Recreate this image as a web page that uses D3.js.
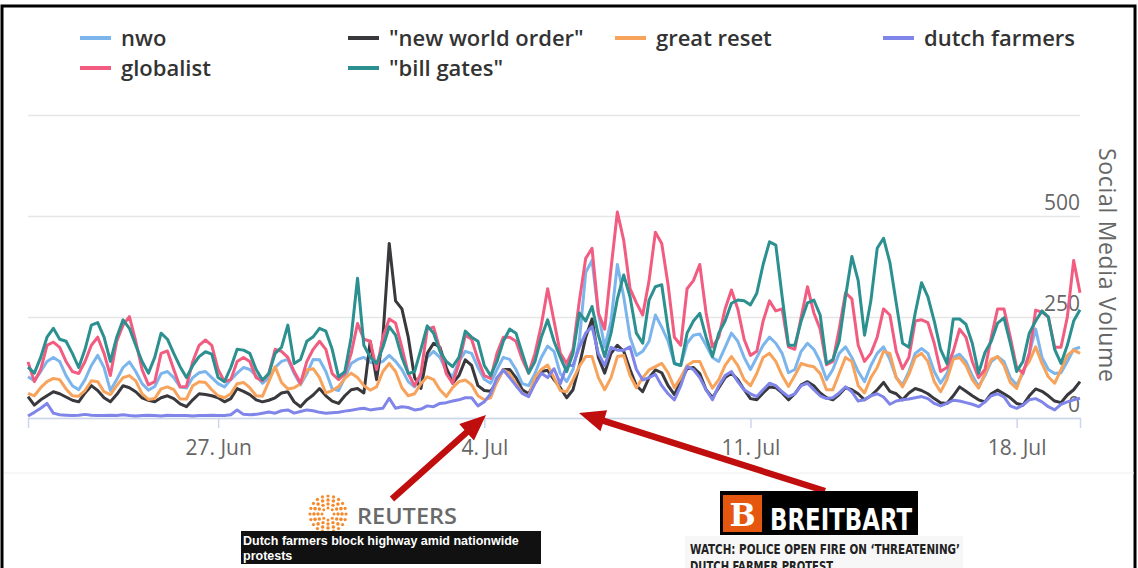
<!DOCTYPE html>
<html lang="en">
<head>
<meta charset="UTF-8">
<title>Social Media Volume</title>
<script src="https://d3js.org/d3.v7.min.js"></script>
<style>
  body { margin: 0; background: #fff; }
  svg { display: block; font-family: 'Open Sans', sans-serif; }
</style>
</head>
<body>
<svg id="chart" width="1138" height="568"></svg>
<script>
// series in legend / drawing order
const seriesNames = ["nwo", "\"new world order\"", "great reset", "dutch farmers", "globalist", "\"bill gates\""];
const seriesColors = ["#7cb5ec", "#38383d", "#f7a35c", "#8085e9", "#f15c80", "#2b908f"];

// 4-hourly samples starting 22 Jun 2022 00:00 UTC
const startTime = Date.UTC(2022, 5, 22, 0);
const stepHours = 4;

const nwo = [102,92,115,140,150,140,105,80,70,95, 130,155,125,68,95,125,139,115,85,69,
  78,110,115,100,77,74,100,112,115,100, 85,77,95,111,125,120,105,86,100,125,
  140,145,110,82,110,145,144,115,72,68, 100,135,145,150,138,135,140,155,140,120,
  90,77,100,150,165,150,118,102,140,165, 160,125,96,86,120,150,145,120,85,80,
  110,150,178,165,110,90,120,190,360,390, 260,175,240,380,300,200,155,165,190,255,
  225,190,135,130,185,205,208,180,150,140, 175,210,190,150,120,150,180,200,185,160,
  112,120,165,185,170,140,95,120,160,176, 150,115,90,130,160,176,145,100,82,115,
  160,172,160,115,86,110,150,158,140,105, 78,105,140,152,140,100,82,110,160,220,
  150,120,110,112,140,170,175];

const newWorldOrder = [53,32,45,55,65,60,52,44,40,62, 80,68,50,40,58,80,75,65,50,44,
  40,50,55,48,35,28,45,60,58,55, 50,40,48,73,66,58,45,40,44,50,
  62,65,40,28,45,57,73,55,42,36, 55,70,73,62,190,95,200,432,290,270,
  200,100,73,160,185,175,125,86,105,144, 130,80,68,66,90,120,120,100,70,60,
  90,115,118,95,75,50,70,130,200,245, 150,111,160,180,165,120,80,65,100,119,
  112,80,58,90,122,125,110,70,50,75, 100,111,95,70,48,45,62,77,75,62,
  45,60,82,90,80,62,50,45,58,75, 70,60,45,55,70,88,66,60,45,62,
  73,68,60,48,38,36,55,77,66,55, 45,40,60,69,60,50,36,32,55,72,
  66,55,42,38,57,70,90];

const greatReset = [61,55,75,90,98,95,72,55,54,68, 92,90,65,58,80,100,105,92,60,46,
  48,72,77,70,47,47,80,90,88,70, 55,50,60,85,88,75,55,54,90,127,
  88,72,75,85,119,122,100,62,68,78, 98,111,100,80,69,77,115,135,115,75,
  55,60,85,102,95,70,53,75,90,94, 82,55,45,50,90,119,110,85,61,54,
  100,120,131,100,68,65,95,128,152,152, 100,70,100,152,155,105,75,100,119,127,
  135,112,75,100,130,140,140,105,74,95, 130,152,130,95,80,110,150,160,140,105,
  78,105,135,130,127,110,70,70,110,150, 140,80,62,100,125,165,160,100,77,108,
  150,160,140,90,65,95,145,150,130,95, 74,110,145,152,130,88,73,118,140,176,
  135,102,86,120,155,168,160];

const dutchFarmers = [5,14,24,36,12,8,7,6,7,9, 7,6,6,7,6,8,6,5,6,7,
  6,5,7,6,6,6,5,6,6,7, 6,6,8,20,9,8,9,12,15,12,
  18,20,12,16,20,18,14,12,13,14, 17,19,22,24,20,22,24,49,24,28,
  26,20,22,30,28,36,38,42,45,50, 50,30,40,60,100,119,100,80,61,53,
  85,111,100,122,85,130,130,175,210,226, 160,130,175,168,168,176,120,94,100,108,
  80,60,45,80,127,120,100,70,45,80, 105,115,90,70,60,53,70,86,80,65,
  53,60,80,86,70,55,48,50,62,77, 65,42,45,55,60,52,34,42,45,47,
  50,53,48,36,30,36,44,42,38,34, 28,40,55,60,52,30,24,32,45,48,
  40,28,20,34,40,45,49];

const globalist = [139,90,120,180,188,175,140,115,110,140, 180,200,160,105,190,230,251,190,120,82,
  90,160,166,120,77,78,140,180,193,180, 120,90,95,140,150,140,100,92,110,170,
  165,150,115,86,140,170,190,170,110,95, 110,160,234,195,190,120,200,245,235,175,
  110,80,110,220,225,170,110,86,135,205, 195,145,105,98,160,200,200,190,145,111,
  160,230,320,240,160,135,170,290,395,420, 260,220,370,510,440,320,285,255,340,460,
  432,330,200,180,320,340,380,260,176,200, 270,317,270,195,155,165,240,290,265,270,
  176,170,250,325,260,220,132,140,220,310, 295,180,140,160,200,270,255,165,122,150,
  240,243,236,185,115,125,165,220,200,140, 100,120,200,270,270,200,125,111,160,267,
  262,250,175,175,250,390,310];

const billGates = [126,111,150,200,222,195,190,160,125,170, 230,236,200,140,200,243,222,180,140,111,
  150,210,195,160,127,100,130,152,164,158, 100,90,125,170,168,160,120,94,110,160,
  175,230,135,145,190,201,222,215,170,102, 115,200,346,180,150,135,175,226,205,150,
  110,115,170,228,210,165,140,127,150,215, 200,190,130,105,140,190,220,210,160,111,
  140,200,243,190,150,115,160,260,240,276, 205,152,210,295,354,300,210,185,292,325,
  330,220,135,130,210,240,259,200,152,210, 240,284,292,290,280,309,380,436,428,300,
  180,180,240,285,292,255,135,145,190,300, 400,340,205,290,420,445,385,285,185,175,
  260,335,300,240,170,135,245,245,232,185, 111,162,190,235,248,185,115,140,210,240,
  265,250,170,135,180,240,268];

const seriesValues = [nwo, newWorldOrder, greatReset, dutchFarmers, globalist, billGates];

const xTickDates = ["2022-06-27", "2022-07-04", "2022-07-11", "2022-07-18"];
const yTicks = [0, 250, 500, 750];
const yLabelled = [0, 250, 500];

const svg = d3.select("#chart");
const plot = { left: 28, right: 1080, top: 115, bottom: 418 };

// outer frame
svg.append("rect")
  .attr("x", 2).attr("y", 6).attr("width", 1133).attr("height", 600)
  .attr("fill", "none").attr("stroke", "#000").attr("stroke-width", 3);

const times = nwo.map((d, i) => new Date(startTime + i * stepHours * 3600e3));

const x = d3.scaleUtc()
  .domain([times[0], times[times.length - 1]])
  .range([plot.left, plot.right]);

const y = d3.scaleLinear()
  .domain([0, 750])
  .range([plot.bottom, plot.top]);

// gridlines + y labels (labels sit above the lines, right aligned)
const yAxis = svg.append("g")
  .attr("transform", `translate(${plot.left},0)`)
  .call(d3.axisRight(y)
    .tickValues(yTicks)
    .tickSize(plot.right - plot.left)
    .tickFormat(d => yLabelled.includes(d) ? d : ""));
yAxis.select(".domain").remove();
yAxis.selectAll(".tick line").attr("stroke", "#e6e6e6").attr("stroke-width", 1.5);
yAxis.selectAll(".tick text")
  .attr("x", plot.right - plot.left)
  .attr("dy", "-0.3em")
  .attr("text-anchor", "end")
  .attr("fill", "#666")
  .style("font-size", "21px")
  .style("font-family", "'Open Sans', sans-serif");

svg.append("text")
  .attr("transform", `translate(1099,265) rotate(90)`)
  .attr("text-anchor", "middle")
  .attr("fill", "#666")
  .style("font-size", "23px")
  .attr("textLength", 234)
  .text("Social Media Volume");

// x axis
const xAxis = svg.append("g")
  .attr("transform", `translate(0,${plot.bottom})`)
  .call(d3.axisBottom(x)
    .tickValues(xTickDates.map(d => new Date(d + "T00:00:00Z")))
    .tickSize(10)
    .tickPadding(12)
    .tickFormat(d3.utcFormat("%-d. %b")));
xAxis.select(".domain").attr("stroke", "#ccd6eb").attr("stroke-width", 1.5);
xAxis.selectAll(".tick line").attr("stroke", "#ccd6eb").attr("stroke-width", 1.5);
xAxis.selectAll(".tick text")
  .attr("fill", "#666")
  .style("font-size", "21px")
  .style("font-family", "'Open Sans', sans-serif");

// faint bottom separator of chart container
svg.append("line")
  .attr("x1", 4).attr("x2", 1134).attr("y1", 473).attr("y2", 473)
  .attr("stroke", "#eeeeee").attr("stroke-width", 1);

// lines
const line = d3.line()
  .x((d, i) => x(times[i]))
  .y(d => y(d));

seriesValues.forEach((vals, k) => {
  svg.append("path")
    .datum(vals)
    .attr("fill", "none")
    .attr("stroke", seriesColors[k])
    .attr("stroke-width", 3)
    .attr("stroke-linejoin", "round")
    .attr("d", line);
});

// legend
const legendCols = [80, 348, 615, 883];
const legendRows = [38, 68];
seriesNames.forEach((name, k) => {
  const g = svg.append("g")
    .attr("transform", `translate(${legendCols[k % 4]},${legendRows[Math.floor(k / 4)]})`);
  g.append("line")
    .attr("x1", 0).attr("x2", 31)
    .attr("stroke", seriesColors[k]).attr("stroke-width", 4);
  g.append("text")
    .attr("x", 41).attr("y", 8)
    .attr("fill", "#333")
    .style("font-size", "22px")
    .style("font-weight", 600)
    .text(name);
});

// red arrows
function arrow(x1, y1, x2, y2) {
  const a = Math.atan2(y2 - y1, x2 - x1);
  const len = Math.hypot(x2 - x1, y2 - y1);
  const hl = 26, hw = 11, sw = 3.2;
  const pts = [[0, -sw], [len - hl, -sw], [len - hl, -hw], [len, 0], [len - hl, hw], [len - hl, sw], [0, sw]];
  svg.append("polygon")
    .attr("points", pts.map(p => p.join(",")).join(" "))
    .attr("transform", `translate(${x1},${y1}) rotate(${a * 180 / Math.PI})`)
    .attr("fill", "#c00d0d");
}
arrow(392, 499, 486, 415);
arrow(825, 491, 579, 413);

// Reuters logo
const logo = svg.append("g").attr("transform", "translate(328,514)");
[[6, 8, 1.5], [10, 12, 1.7], [14, 16, 1.8], [18, 20, 1.6]].forEach(([r, n, dr]) => {
  d3.range(n).forEach(j => {
    const t = j / n * 2 * Math.PI;
    logo.append("circle")
      .attr("cx", r * Math.cos(t)).attr("cy", r * Math.sin(t))
      .attr("r", dr).attr("fill", "#f58a2c");
  });
});
svg.append("text")
  .attr("x", 357).attr("y", 524)
  .attr("fill", "#6a6a6a")
  .style("font-family", "'Open Sans', sans-serif")
  .style("font-size", "21px").style("font-weight", 600)
  .attr("textLength", 100).attr("lengthAdjust", "spacingAndGlyphs")
  .text("REUTERS");

svg.append("rect")
  .attr("x", 241).attr("y", 531).attr("width", 300).attr("height", 33)
  .attr("fill", "#111");
svg.append("text")
  .attr("x", 243).attr("y", 545)
  .attr("fill", "#fff")
  .style("font-family", "'Liberation Sans', sans-serif")
  .style("font-size", "12.5px").style("font-weight", 700)
  .text("Dutch farmers block highway amid nationwide");
svg.append("text")
  .attr("x", 243).attr("y", 560)
  .attr("fill", "#fff")
  .style("font-family", "'Liberation Sans', sans-serif")
  .style("font-size", "12.5px").style("font-weight", 700)
  .text("protests");

// Breitbart
svg.append("rect")
  .attr("x", 720).attr("y", 491).attr("width", 198).attr("height", 44)
  .attr("fill", "#000");
svg.append("rect")
  .attr("x", 723).attr("y", 495).attr("width", 39).attr("height", 37)
  .attr("fill", "#e5560f");
svg.append("text")
  .attr("x", 742.5).attr("y", 526)
  .attr("text-anchor", "middle")
  .attr("fill", "#fff")
  .style("font-family", "'DejaVu Serif', serif")
  .style("font-size", "31px").style("font-weight", 700)
  .text("B");
svg.append("text")
  .attr("x", 770).attr("y", 530)
  .attr("fill", "#fff")
  .style("font-family", "'Liberation Sans Narrow', 'DejaVu Sans Condensed', sans-serif")
  .style("font-size", "31px").style("font-weight", 700)
  .attr("textLength", 142).attr("lengthAdjust", "spacingAndGlyphs")
  .text("BREITBART");
svg.append("rect")
  .attr("x", 685).attr("y", 536).attr("width", 278).attr("height", 40)
  .attr("fill", "#f7f7f7");
svg.append("text")
  .attr("x", 690).attr("y", 554)
  .attr("fill", "#222")
  .style("font-family", "'Liberation Sans Narrow', 'DejaVu Sans Condensed', sans-serif")
  .style("font-size", "14px").style("font-weight", 700)
  .attr("textLength", 270).attr("lengthAdjust", "spacingAndGlyphs")
  .text("WATCH: POLICE OPEN FIRE ON \u2018THREATENING\u2019");
svg.append("text")
  .attr("x", 690).attr("y", 571)
  .attr("fill", "#222")
  .style("font-family", "'Liberation Sans Narrow', 'DejaVu Sans Condensed', sans-serif")
  .style("font-size", "14px").style("font-weight", 700)
  .attr("textLength", 143).attr("lengthAdjust", "spacingAndGlyphs")
  .text("DUTCH FARMER PROTEST");
</script>
</body>
</html>
